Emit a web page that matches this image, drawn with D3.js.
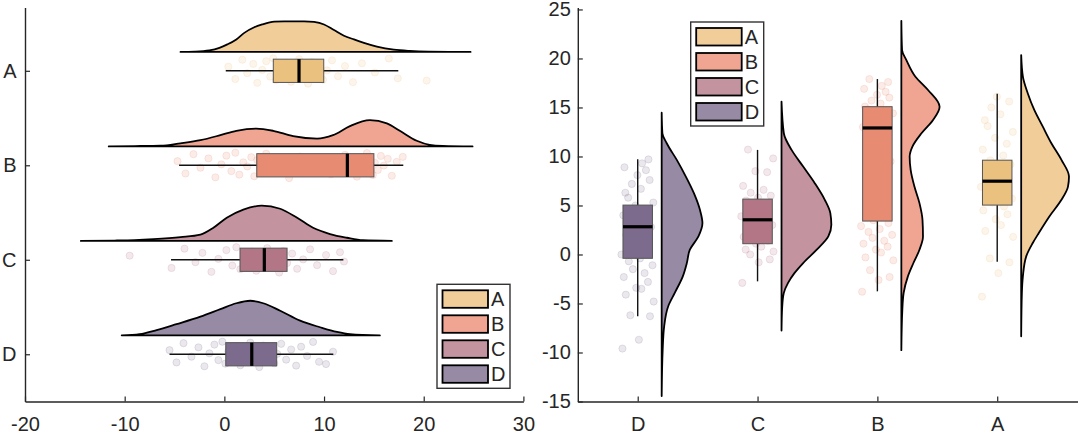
<!DOCTYPE html>
<html>
<head>
<meta charset="utf-8">
<script src="https://cdn.jsdelivr.net/npm/d3@7"></script>
<style>
  html, body { margin: 0; padding: 0; background: #fff; }
  svg { display: block; }
  text { font-family: "Liberation Sans", Arial, Helvetica, sans-serif; fill: #262626; }
</style>
</head>
<body>
<svg id="chart" width="1080" height="435"></svg>
<script>
// ---------------- DATA ----------------
const categories = ["A", "B", "C", "D"];
const categoryPos = [4, 3, 2, 1];            // A on top (left) / on the right (right panel)
const tickLabels = ["D", "C", "B", "A"];      // tick labels at positions 1..4
const leftXTicks = [-20, -10, 0, 10, 20, 30];
const rightYTicks = [-15, -10, -5, 0, 5, 10, 15, 20, 25];

// Left panel (horizontal raincloud) densities: grid values and density values
const leftDensV_A = [-4.4, -3, -1.5, -0.5, 0.3, 1.2, 2, 3, 3.8, 5, 6, 7, 8, 9, 10, 11, 12, 13, 14, 15.3, 17, 18.6, 20.5, 24.7];
const leftDensD_A = [0, .001, .005, .013, .024, .040, .061, .079, .088, .097, .098, .098, .098, .096, .088, .070, .052, .040, .029, .017, .007, .003, .001, 0];
const leftDensV_B = [-11.6, -9, -7.5, -6.4, -4.4, -2.4, -0.4, 1.2, 3.2, 4.9, 6.9, 9.3, 10.9, 12.6, 14.6, 16.3, 17.6, 19.3, 20.6, 21.9, 24.9];
const leftDensD_B = [0, .001, .0015, .002, .010, .020, .036, .050, .057, .050, .033, .025, .036, .065, .084, .074, .050, .018, .005, .0015, 0];
const leftDensV_C = [-14.4, -11, -9, -7.1, -4.4, -2.4, -1.1, 0.24, 1.9, 3.75, 5.6, 7.3, 8.9, 10.6, 12.3, 13.9, 16.8];
const leftDensD_C = [0, .001, .0025, .0055, .012, .020, .042, .074, .100, .113, .103, .074, .042, .022, .010, .002, 0];
const leftDensV_D = [-10.3, -8.5, -6.8, -4.8, -2.4, -0.4, 1.2, 2.6, 3.9, 5.6, 7.6, 9.6, 11.3, 12.6, 15.6];
const leftDensD_D = [0, .004, .017, .036, .060, .084, .103, .111, .103, .079, .047, .026, .011, .004, 0];

// Left panel box statistics (A, B, C, D)
const leftQ1  = [4.91, 3.25, 1.57, 0.14];
const leftMed = [7.49, 12.34, 4.01, 2.75];
const leftQ3  = [9.97, 15.0, 6.29, 5.25];
const leftWLo = [0.14, -4.54, -5.35, -5.5];
const leftWHi = [17.45, 17.95, 11.94, 10.93];

// Left panel raw points
const leftPts_A = [0.4, 1.1, 1.8, 2.3, 2.9, 3.3, 3.8, 4.2, 4.6, 4.9, 5.2, 5.6, 5.9, 6.3, 6.7, 7.0, 7.3, 7.5, 7.8, 8.1, 8.4, 8.8, 9.1, 9.5, 9.9, 10.3, 10.8, 11.4, 12.1, 12.9, 13.8, 15.1, 16.5, 17.4, 20.3];
const leftPts_B = [-4.7, -3.9, -3.1, -2.4, -1.6, -0.9, -0.3, 0.2, 0.7, 1.1, 1.5, 1.9, 2.3, 2.7, 3.0, 3.3, 3.7, 4.2, 4.8, 5.6, 6.5, 7.6, 8.7, 9.8, 10.7, 11.5, 12.1, 12.5, 12.9, 13.3, 13.7, 14.0, 14.3, 14.6, 14.9, 15.1, 15.4, 15.7, 16.0, 16.4, 16.8, 17.3, 17.9];
const leftPts_C = [-9.5, -5.3, -4.0, -2.9, -2.2, -1.3, -0.6, 0.2, 0.8, 1.2, 1.6, 2.0, 2.4, 2.8, 3.2, 3.6, 4.0, 4.3, 4.7, 5.1, 5.5, 5.9, 6.3, 6.8, 7.3, 7.9, 8.6, 9.3, 10.2, 10.9, 11.6, 12.0];
const leftPts_D = [-5.5, -4.8, -4.1, -3.3, -2.6, -2.0, -1.5, -1.0, -0.6, -0.2, 0.1, 0.4, 0.8, 1.2, 1.6, 2.0, 2.3, 2.6, 2.8, 3.1, 3.5, 3.9, 4.3, 4.7, 5.0, 5.3, 5.7, 6.2, 6.7, 7.2, 7.7, 8.3, 8.9, 9.5, 10.2, 10.9];

// Right panel (vertical raincloud) densities
const rightDensV_A = [-8.34, -3.92, -2.23, -0.19, 1.17, 2.19, 3.88, 5.58, 6.93, 7.95, 9.65, 11.35, 13.04, 14.75, 16.45, 18.14, 20.35];
const rightDensD_A = [0, .0014, .0034, .010, .023, .035, .056, .080, .093, .095, .080, .060, .043, .026, .013, .0034, 0];
const rightDensV_B = [-9.76, -5.62, -3.92, -2.23, -0.87, 0.49, 1.84, 3.54, 5.24, 6.93, 8.64, 9.99, 11.01, 12.37, 13.73, 15.08, 16.78, 18.14, 19.84, 20.86, 23.84];
const rightDensD_B = [0, .002, .0046, .013, .024, .036, .043, .042, .036, .026, .0185, .0165, .022, .040, .063, .076, .053, .028, .010, .0014, 0];
const rightDensV_C = [-7.76, -5.3, -3.92, -2.9, -1.88, -0.87, 0.49, 1.84, 3.03, 4.22, 5.58, 7.28, 8.97, 10.67, 12.37, 15.6];
const rightDensD_C = [0, .0014, .0046, .013, .026, .043, .070, .093, .099, .097, .086, .066, .043, .020, .0046, 0];
const rightDensV_D = [-14.45, -9.7, -7.3, -5.28, -3.92, -2.23, -0.87, 0.49, 1.84, 3.2, 4.56, 6.26, 7.95, 9.65, 11.35, 12.37, 14.47];
const rightDensD_D = [0, .002, .005, .013, .026, .042, .050, .056, .073, .081, .076, .064, .048, .030, .010, .0014, 0];

// Right panel box statistics (A, B, C, D)
const rightQ1  = [5.04, 3.41, 1.1, -0.39];
const rightMed = [7.48, 12.91, 3.54, 2.83];
const rightQ3  = [9.62, 15.08, 5.65, 5.04];
const rightWLo = [-0.73, -3.76, -2.74, -6.3];
const rightWHi = [16.4, 17.9, 10.67, 9.72];

// Right panel raw points
const rightPts_A = [-4.3, -1.9, -0.8, -0.4, 1.8, 2.4, 3.0, 3.6, 4.1, 4.5, 4.9, 5.3, 5.7, 6.1, 6.5, 6.9, 7.3, 7.6, 8.0, 8.4, 8.8, 9.2, 9.6, 10.1, 10.7, 11.3, 11.9, 12.5, 13.1, 13.7, 14.3, 15.0, 15.6, 16.1];
const rightPts_B = [-3.8, -2.6, -2.3, -1.6, -0.6, -0.3, 0.2, 0.5, 0.8, 1.1, 1.4, 1.7, 2.0, 2.3, 2.6, 2.9, 3.2, 3.5, 4.5, 5.6, 7.0, 9.5, 11.5, 12.5, 13.0, 13.5, 14.0, 14.4, 14.8, 15.1, 15.4, 15.7, 16.0, 16.3, 16.6, 16.9, 17.2, 17.6, 17.9];
const rightPts_C = [-2.9, -0.8, -0.5, 0.0, 0.3, 0.5, 0.8, 1.1, 1.4, 1.8, 2.2, 2.6, 3.0, 3.3, 3.6, 3.9, 4.3, 4.7, 5.1, 5.5, 5.8, 6.0, 6.3, 6.6, 7.0, 8.4, 8.5, 9.8, 10.7];
const rightPts_D = [-9.6, -8.7, -6.3, -6.2, -4.8, -4.1, -3.5, -3.4, -2.8, -2.3, -1.9, -1.5, -1.1, -0.7, -0.4, 0.0, 0.5, 1.0, 1.5, 2.0, 2.4, 2.8, 3.1, 3.5, 4.0, 4.5, 5.0, 5.3, 5.8, 6.3, 6.7, 7.2, 7.6, 8.1, 8.6, 8.9, 9.3, 9.7];

// Hand-placed jitter offsets (fraction of jitter band)
const jitter = [0.31,-0.62,0.84,-0.18,0.52,-0.91,0.07,0.73,-0.44,0.95,-0.71,0.22,-0.09,0.61,-0.83,0.41,-0.29,0.88,-0.53,0.14,-0.97,0.66,-0.24,0.47,-0.68,0.03,0.79,-0.41,0.36,-0.86,0.57,-0.13,0.93,-0.57,-0.74,0.19,-0.35,0.71,-0.02,0.49,-0.79,0.26,0.64,-0.48,0.11];

// ---------------- STYLE ----------------
const violinColors = ["#F1CD99", "#EFA592", "#C393A0", "#978AA4"];
const boxColors    = ["#EBC180", "#E88B73", "#B27686", "#7C6B8C"];
const AXIS = "#262626";
const FONT = 20;
const densOffset = 0.2, boxHalf = 0.123, jitterHalf = 0.14;
const leftDensScale = 3.3, rightDensScale = 4.2;

const leftDens = [[leftDensV_A, leftDensD_A], [leftDensV_B, leftDensD_B], [leftDensV_C, leftDensD_C], [leftDensV_D, leftDensD_D]];
const rightDens = [[rightDensV_A, rightDensD_A], [rightDensV_B, rightDensD_B], [rightDensV_C, rightDensD_C], [rightDensV_D, rightDensD_D]];
const leftPts = [leftPts_A, leftPts_B, leftPts_C, leftPts_D];
const rightPts = [rightPts_A, rightPts_B, rightPts_C, rightPts_D];

const svg = d3.select("#chart");
svg.append("rect").attr("width", 1080).attr("height", 435).attr("fill", "#fff");

// ---------------- LEFT PANEL ----------------
const xL = d3.scaleLinear().domain([-20, 30]).range([25, 523.4]);
const yL = d3.scaleLinear().domain([0.5, 4.67]).range([401.5, 7.5]);
const gL = svg.append("g");

categories.forEach((c, i) => {
  const p = categoryPos[i];
  const [dv, dd] = leftDens[i];
  const pts = dv.map((v, k) => [v, dd[k]]);
  const area = d3.area()
    .x(d => xL(d[0]))
    .y0(yL(p + densOffset))
    .y1(d => yL(p + densOffset + leftDensScale * d[1]))
    .curve(d3.curveMonotoneX);
  gL.append("path").attr("d", area(pts))
    .attr("fill", violinColors[i]).attr("stroke", "#000").attr("stroke-width", 1.8)
    .attr("stroke-linejoin", "round");

  gL.append("g").selectAll("circle").data(leftPts[i]).join("circle")
    .attr("cx", d => xL(d))
    .attr("cy", (d, k) => yL(p + jitterHalf * jitter[k % jitter.length]))
    .attr("r", 3.6)
    .attr("fill", boxColors[i]).attr("fill-opacity", 0.16)
    .attr("stroke", boxColors[i]).attr("stroke-opacity", 0.22).attr("stroke-width", 0.8);

  gL.append("line")
    .attr("x1", xL(leftWLo[i])).attr("x2", xL(leftWHi[i]))
    .attr("y1", yL(p)).attr("y2", yL(p))
    .attr("stroke", "#111").attr("stroke-width", 1.4);
  gL.append("rect")
    .attr("x", xL(leftQ1[i])).attr("width", xL(leftQ3[i]) - xL(leftQ1[i]))
    .attr("y", yL(p + boxHalf)).attr("height", yL(p - boxHalf) - yL(p + boxHalf))
    .attr("fill", boxColors[i]).attr("stroke", "#555").attr("stroke-width", 1);
  gL.append("line")
    .attr("x1", xL(leftMed[i])).attr("x2", xL(leftMed[i]))
    .attr("y1", yL(p + boxHalf)).attr("y2", yL(p - boxHalf))
    .attr("stroke", "#000").attr("stroke-width", 3.2);
});

const axLX = gL.append("g").attr("transform", `translate(0,${yL(0.5)})`)
  .call(d3.axisBottom(xL).tickValues(leftXTicks).tickFormat(d => String(d))
    .tickSizeInner(-5).tickSizeOuter(0).tickPadding(15.5));
const axLY = gL.append("g").attr("transform", `translate(${xL(-20)},0)`)
  .call(d3.axisLeft(yL).tickValues([1, 2, 3, 4]).tickFormat((d, k) => tickLabels[k])
    .tickSizeInner(-5).tickSizeOuter(0).tickPadding(8.5));

// ---------------- RIGHT PANEL ----------------
const xR = d3.scaleLinear().domain([0.5, 4.67]).range([577.8, 1077.5]);
const yR = d3.scaleLinear().domain([-15, 25.2]).range([401.5, 7.5]);
const gR = svg.append("g");

categories.forEach((c, i) => {
  const p = categoryPos[i];
  const [dv, dd] = rightDens[i];
  const pts = dv.map((v, k) => [v, dd[k]]);
  const area = d3.area()
    .y(d => yR(d[0]))
    .x0(xR(p + densOffset))
    .x1(d => xR(p + densOffset + rightDensScale * d[1]))
    .curve(d3.curveMonotoneY);
  gR.append("path").attr("d", area(pts))
    .attr("fill", violinColors[i]).attr("stroke", "#000").attr("stroke-width", 1.8)
    .attr("stroke-linejoin", "round");

  gR.append("g").selectAll("circle").data(rightPts[i]).join("circle")
    .attr("cx", (d, k) => xR(p + jitterHalf * jitter[(k + 5) % jitter.length]))
    .attr("cy", d => yR(d))
    .attr("r", 3.6)
    .attr("fill", boxColors[i]).attr("fill-opacity", 0.16)
    .attr("stroke", boxColors[i]).attr("stroke-opacity", 0.22).attr("stroke-width", 0.8);

  gR.append("line")
    .attr("y1", yR(rightWLo[i])).attr("y2", yR(rightWHi[i]))
    .attr("x1", xR(p)).attr("x2", xR(p))
    .attr("stroke", "#111").attr("stroke-width", 1.4);
  gR.append("rect")
    .attr("x", xR(p - boxHalf)).attr("width", xR(p + boxHalf) - xR(p - boxHalf))
    .attr("y", yR(rightQ3[i])).attr("height", yR(rightQ1[i]) - yR(rightQ3[i]))
    .attr("fill", boxColors[i]).attr("stroke", "#555").attr("stroke-width", 1);
  gR.append("line")
    .attr("y1", yR(rightMed[i])).attr("y2", yR(rightMed[i]))
    .attr("x1", xR(p - boxHalf)).attr("x2", xR(p + boxHalf))
    .attr("stroke", "#000").attr("stroke-width", 3.2);
});

gR.append("g").attr("transform", `translate(0,${yR(-15)})`)
  .call(d3.axisBottom(xR).tickValues([1, 2, 3, 4]).tickFormat((d, k) => tickLabels[k])
    .tickSizeInner(-5).tickSizeOuter(0).tickPadding(15));
gR.append("g").attr("transform", `translate(${xR(0.5)},0)`)
  .call(d3.axisLeft(yR).tickValues(rightYTicks).tickFormat(d => String(d))
    .tickSizeInner(-5).tickSizeOuter(0).tickPadding(7));

// axis styling
svg.selectAll(".domain").attr("stroke", AXIS).attr("stroke-width", 1.4);
svg.selectAll(".tick line").attr("stroke", AXIS).attr("stroke-width", 1.2);
svg.selectAll(".tick text").attr("font-size", FONT).attr("fill", AXIS)
  .style("font-family", '"Liberation Sans", Arial, sans-serif');

// ---------------- LEGENDS ----------------
function legend(x0, y0) {
  const g = svg.append("g").attr("transform", `translate(${x0},${y0})`);
  g.append("rect").attr("width", 73).attr("height", 104)
    .attr("fill", "#fff").attr("stroke", "#333").attr("stroke-width", 1.4);
  categories.forEach((c, i) => {
    g.append("rect").attr("x", 5.5).attr("y", 6 + 25 * i).attr("width", 45.5).attr("height", 17.5)
      .attr("fill", violinColors[i]).attr("stroke", "#000").attr("stroke-width", 1.8);
    g.append("text").attr("x", 54).attr("y", 6 + 25 * i + 8.75).attr("dy", "0.36em")
      .attr("font-size", FONT).text(c);
  });
}
legend(437, 284.3);
legend(690.7, 22);
</script>
</body>
</html>
